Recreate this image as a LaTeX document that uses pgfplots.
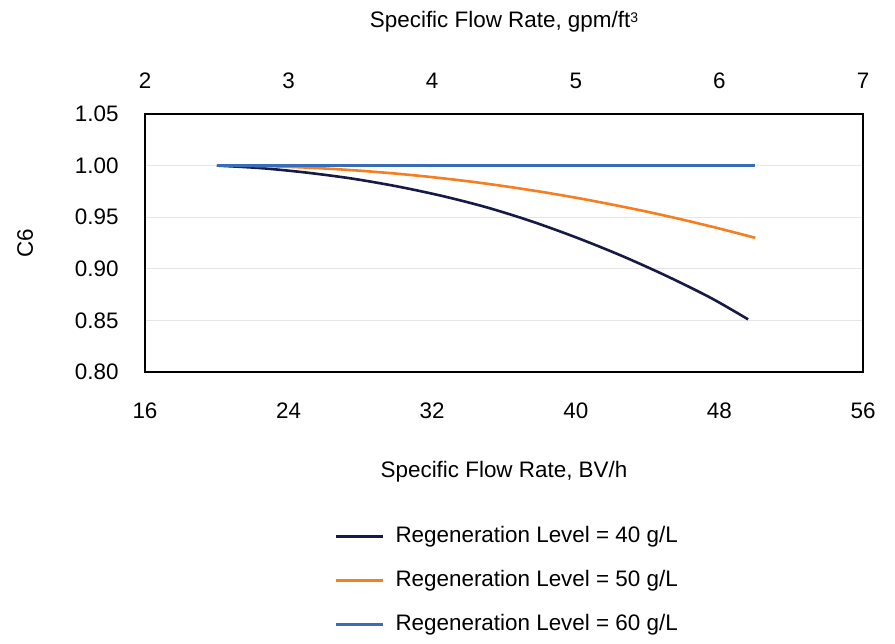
\documentclass[border=0pt]{standalone}
\usepackage{pgfplots}
\pgfplotsset{compat=1.18}
\usepackage{fontspec}
\setmainfont{Liberation Sans}
\definecolor{cnavy}{HTML}{171A44}
\definecolor{corange}{HTML}{F47E20}
\definecolor{cblue}{HTML}{3A6DB8}
\definecolor{cgrid}{HTML}{E6E6E6}
\begin{document}
\begin{tikzpicture}[x=1bp,y=1bp]
\path[use as bounding box] (0,0) rectangle (895,644);
\begin{axis}[
  at={(145bp,272bp)}, anchor=south west,
  scale only axis, width=718bp, height=258bp,
  font=\fontsize{22.5}{27}\selectfont,
  /pgf/number format/assume math mode=true,
  xmin=16, xmax=56, ymin=0.8, ymax=1.05,
  xtick={16,24,32,40,48,56},
  ytick={0.8,0.85,0.9,0.95,1,1.05},
  yticklabel style={/pgf/number format/fixed,/pgf/number format/fixed zerofill,/pgf/number format/precision=2, xshift=-23bp},
  xticklabel style={yshift=-27bp},
  major tick length=0pt,
  ymajorgrids, grid style={color=cgrid, line width=1.3bp},
  axis line style={line width=2.5bp},
  xlabel={Specific Flow Rate, BV/h},
  ylabel={C6},
  every axis x label/.style={at={(axis description cs:0.5,-0.388)}, anchor=center},
  every axis y label/.style={at={(axis description cs:-0.167,0.5)}, anchor=center, rotate=90},
  legend style={at={(axis description cs:0.503,-0.81)}, anchor=center, draw=none, fill=none,
    row sep=24bp, nodes={inner sep=0pt, text height=16bp, text depth=4bp},
    /tikz/every odd column/.append style={column sep=11bp}},
  legend cell align=left,
  legend image code/.code={\draw[#1, line width=3bp] (0bp,0bp) -- (47bp,0bp);},
]
\addplot[cnavy, line width=2.6bp, smooth] coordinates {
(20,1.0) (22.5,0.9975) (25,0.9932) (27.5,0.9875) (30,0.98) (32.5,0.9708) (35,0.9597) (37.5,0.9462) (40,0.9305) (42.5,0.913) (45,0.8935) (47.5,0.872) (49.6,0.851)};
\addlegendentry{Regeneration Level = 40 g/L}
\addplot[corange, line width=2.6bp, smooth] coordinates {
(20,1.0) (22,0.9997) (24,0.9988) (26,0.9972) (28,0.995) (30,0.9922) (32,0.9888) (34,0.9848) (36,0.9801) (38,0.9748) (40,0.9689) (42,0.9623) (44,0.9552) (46,0.9474) (48,0.939) (50,0.93)};
\addlegendentry{Regeneration Level = 50 g/L}
\addplot[cblue, line width=2.6bp] coordinates {(20,1.0) (50,1.0)};
\addlegendentry{Regeneration Level = 60 g/L}
\end{axis}
\begin{axis}[
  at={(145bp,272bp)}, anchor=south west,
  scale only axis, width=718bp, height=258bp,
  font=\fontsize{22.5}{27}\selectfont,
  /pgf/number format/assume math mode=true,
  xmin=2, xmax=7, ymin=0, ymax=1,
  axis x line*=top, axis y line=none,
  xtick={2,3,4,5,6,7},
  xticklabel style={yshift=22bp},
  major tick length=0pt,
  axis line style={line width=2.5bp},
  xlabel={Specific Flow Rate, gpm/ft{\fontsize{14}{16}\selectfont\raisebox{0.75ex}{3}}},
  every axis x label/.style={at={(axis description cs:0.5,1.357)}, anchor=center},
]
\end{axis}
\end{tikzpicture}
\end{document}
